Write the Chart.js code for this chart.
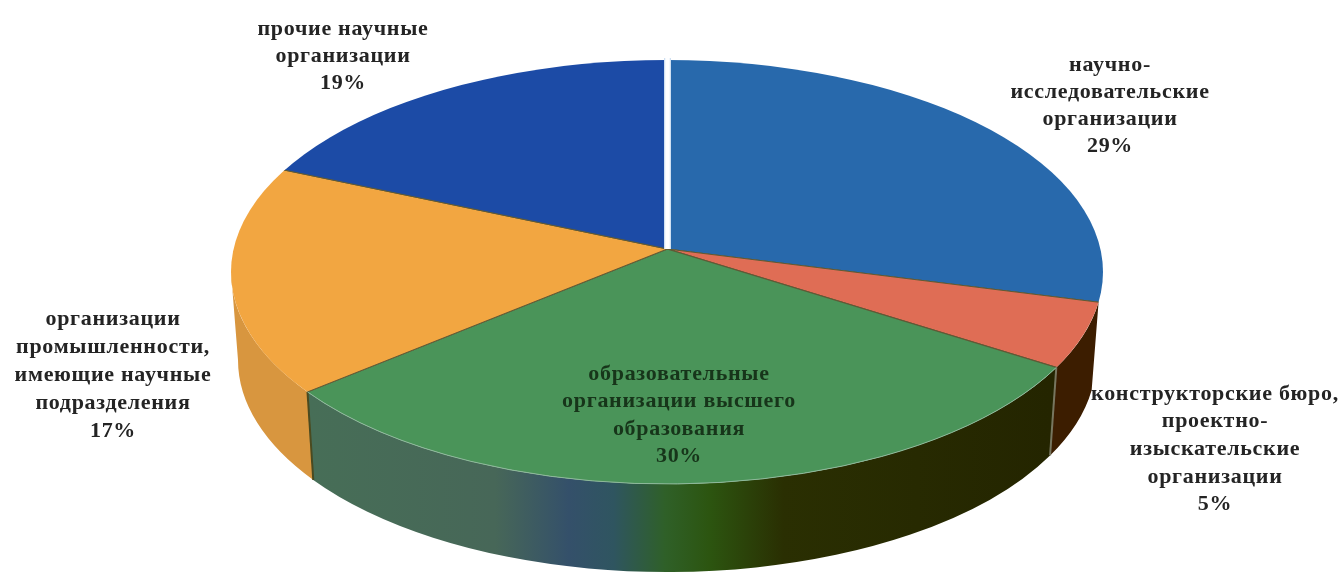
<!DOCTYPE html>
<html lang="ru">
<head>
<meta charset="utf-8">
<title>Организации</title>
<script src="https://cdn.jsdelivr.net/npm/chart.js@4"></script>
<style>
  html, body { margin: 0; padding: 0; background: #fff; }
  canvas { display: block; }
</style>
</head>
<body>
<canvas id="mainChart" width="1344" height="572"></canvas>
<script>
const categories = [
    'научно-исследовательские организации',
    'конструкторские бюро, проектно-изыскательские организации',
    'образовательные организации высшего образования',
    'организации промышленности, имеющие научные подразделения',
    'прочие научные организации'
];
const shares = [29, 5, 30, 17, 19];
const labelLines = [
    ['научно-', 'исследовательские', 'организации'],
    ['конструкторские бюро,', 'проектно-', 'изыскательские', 'организации'],
    ['образовательные', 'организации высшего', 'образования'],
    ['организации', 'промышленности,', 'имеющие научные', 'подразделения'],
    ['прочие научные', 'организации']
];
const topColors = ['#2869ac', '#df6d55', '#4a9459', '#f2a641', '#1c4ba6'];
const sideColors = [null, '#3c1d00', null, '#d8963f', null];

// outline of the tilted disc and the offset of its lower rim
const disc = { x: 667, y: 272, rx: 436, ry: 212, depth: 88, lowerRx: 429 };
// the hub sits above the middle of the disc, so the two halves get different squash
const hub = { x: 667.5, y: 249, up: 0.52, down: 0.48 };
const overscan = 1.25;

const labelBoxes = [
    { x: 1110, y: 65, line: 27.2 },
    { x: 1215, y: 394, line: 27.7 },
    { x: 679, y: 374, line: 27.6, color: '#17351a' },
    { x: 113, y: 319, line: 28 },
    { x: 343, y: 29, line: 27 }
];

function rimAngle(angle) {
    const dx = Math.cos(angle);
    const sin = Math.sin(angle);
    const dy = sin * (sin > 0 ? hub.down : hub.up);
    const ax = hub.x - disc.x;
    const ay = hub.y - disc.y;
    const a = dx * dx / (disc.rx * disc.rx) + dy * dy / (disc.ry * disc.ry);
    const b = 2 * (ax * dx / (disc.rx * disc.rx) + ay * dy / (disc.ry * disc.ry));
    const c = ax * ax / (disc.rx * disc.rx) + ay * ay / (disc.ry * disc.ry) - 1;
    const t = (-b + Math.sqrt(b * b - 4 * a * c)) / (2 * a);
    const th = Math.atan2((ay + dy * t) / disc.ry, (ax + dx * t) / disc.rx);
    return th < 0 ? th + Math.PI * 2 : th;
}

function frontWallGradient(ctx) {
    const g = ctx.createLinearGradient(310, 0, 1050, 0);
    const stops = [
        [0, '#476e57'], [0.25, '#476758'], [0.35, '#34506a'], [0.41, '#2f5560'],
        [0.48, '#2f6028'], [0.54, '#2c5510'], [0.64, '#2a2f02'], [1, '#242500']
    ];
    stops.forEach(s => g.addColorStop(s[0], s[1]));
    return g;
}

function drawWalls(ctx, arcs) {
    arcs.forEach((arc, i) => {
        if (i === 0 || i === 4) return; // these two face away from the viewer
        const from = rimAngle(arc.startAngle);
        const to = Math.min(rimAngle(arc.endAngle), Math.PI);
        ctx.beginPath();
        ctx.ellipse(disc.x, disc.y, disc.rx, disc.ry, 0, from, to);
        ctx.ellipse(disc.x, disc.y + disc.depth, disc.lowerRx, disc.ry, 0, to, from, true);
        ctx.closePath();
        ctx.fillStyle = sideColors[i] || frontWallGradient(ctx);
        ctx.fill();
    });
    // seams between neighbouring walls
    [[arcs[2].startAngle, '#77765f'], [arcs[3].startAngle, '#4a4a20']].forEach(seam => {
        const th = rimAngle(seam[0]);
        ctx.beginPath();
        ctx.moveTo(disc.x + disc.rx * Math.cos(th), disc.y + disc.ry * Math.sin(th));
        ctx.lineTo(disc.x + disc.lowerRx * Math.cos(th), disc.y + disc.depth + disc.ry * Math.sin(th));
        ctx.strokeStyle = seam[1];
        ctx.lineWidth = 2;
        ctx.stroke();
    });
}

function drawHalf(chart, meta, upper) {
    const ctx = chart.ctx;
    const arc = meta.data[0];
    const k = overscan * disc.rx / arc.outerRadius;
    ctx.save();
    ctx.beginPath();
    ctx.ellipse(disc.x, disc.y, disc.rx, disc.ry, 0, 0, Math.PI * 2);
    ctx.clip();
    ctx.beginPath();
    if (upper) ctx.rect(0, 0, chart.width, hub.y);
    else ctx.rect(0, hub.y, chart.width, chart.height);
    ctx.clip();
    ctx.translate(hub.x, hub.y);
    ctx.scale(k, k * (upper ? hub.up : hub.down));
    ctx.translate(-arc.x, -arc.y);
    meta.controller.draw();
    ctx.restore();
}

function drawLabel(ctx, i) {
    const box = labelBoxes[i];
    const lines = labelLines[i].concat(shares[i] + '%');
    ctx.save();
    ctx.font = 'bold 22px "Liberation Serif"';
    ctx.letterSpacing = '0.7px';
    ctx.textAlign = 'center';
    ctx.textBaseline = 'middle';
    ctx.fillStyle = box.color || '#242424';
    lines.forEach((text, n) => ctx.fillText(text, box.x, box.y + n * box.line));
    ctx.restore();
}

const tiltedPie = {
    id: 'tiltedPie',
    beforeDatasetsDraw(chart) {
        const arcs = chart.getDatasetMeta(0).data;
        // outer captions go first: the wall covers the tip of the long line on the right
        [0, 1, 3, 4].forEach(i => drawLabel(chart.ctx, i));
        drawWalls(chart.ctx, arcs);
    },
    beforeDatasetDraw(chart, args) {
        drawHalf(chart, args.meta, true);
        drawHalf(chart, args.meta, false);
        return false;
    },
    afterDatasetsDraw(chart) {
        const ctx = chart.ctx;
        const arcs = chart.getDatasetMeta(0).data;

        // light rim along the front of the green slice
        const from = rimAngle(arcs[2].startAngle);
        const to = rimAngle(arcs[2].endAngle);
        ctx.beginPath();
        ctx.ellipse(disc.x, disc.y, disc.rx, disc.ry, 0, from, to);
        ctx.strokeStyle = '#8db89a';
        ctx.lineWidth = 1;
        ctx.stroke();

        // white cut between the first and last slice
        [['#cfe0f2', 7], ['#ffffff', 4.5]].forEach(cut => {
            ctx.beginPath();
            ctx.moveTo(hub.x, hub.y);
            ctx.lineTo(hub.x, disc.y - disc.ry - 2);
            ctx.strokeStyle = cut[0];
            ctx.lineWidth = cut[1];
            ctx.stroke();
        });

        drawLabel(ctx, 2);
    }
};

new Chart(document.getElementById('mainChart').getContext('2d'), {
    type: 'pie',
    data: {
        labels: categories,
        datasets: [{
            data: shares,
            backgroundColor: topColors,
            borderColor: '#5f5a36',
            borderWidth: 1
        }]
    },
    options: {
        responsive: false,
        animation: false,
        layout: { padding: 0 },
        plugins: {
            legend: { display: false },
            tooltip: { enabled: false }
        }
    },
    plugins: [tiltedPie]
});
</script>
</body>
</html>
